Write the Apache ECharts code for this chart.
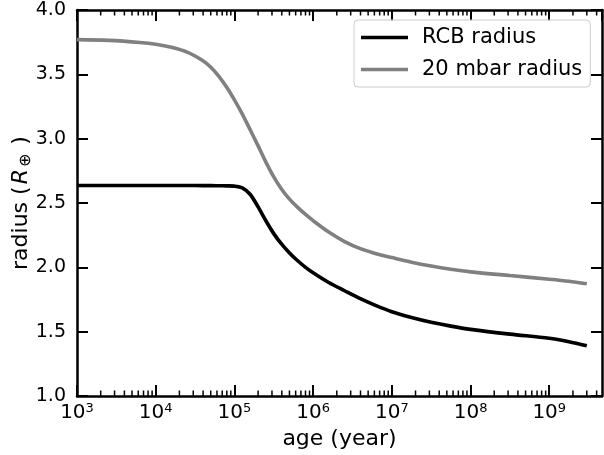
<!DOCTYPE html>
<html>
<head>
<meta charset="utf-8">
<script src="https://cdn.jsdelivr.net/npm/echarts@6/dist/echarts.min.js"></script>
<style>html,body{margin:0;padding:0;background:#fff;}#c{width:604px;height:455px;}</style>
</head>
<body>
<div id="c"></div>
<script>
const ages = [1e3, 2.51e3, 6.31e3, 1e4, 1.58e4, 2.51e4, 3.98e4, 5.01e4, 6.31e4, 7.94e4, 1e5, 1.26e5, 1.58e5, 2e5, 2.51e5, 3.16e5, 3.98e5, 5.01e5, 6.31e5, 7.94e5, 1e6, 1.58e6, 2.51e6, 3.98e6, 6.31e6, 1e7, 1.78e7, 3.16e7, 5.62e7, 1e8, 3.16e8, 1e9, 1.78e9, 3e9];
const rcbRadius = [2.636, 2.636, 2.636, 2.636, 2.636, 2.636, 2.635, 2.635, 2.634, 2.633, 2.631, 2.618, 2.568, 2.470, 2.362, 2.262, 2.180, 2.112, 2.053, 2.002, 1.958, 1.882, 1.818, 1.756, 1.702, 1.655, 1.610, 1.573, 1.543, 1.518, 1.481, 1.449, 1.422, 1.390];
const mbarRadius = [3.770, 3.764, 3.748, 3.734, 3.710, 3.672, 3.605, 3.555, 3.487, 3.402, 3.302, 3.191, 3.071, 2.944, 2.818, 2.703, 2.607, 2.530, 2.468, 2.413, 2.363, 2.274, 2.200, 2.145, 2.106, 2.076, 2.040, 2.010, 1.985, 1.965, 1.936, 1.908, 1.892, 1.872];
const seriesNames = ['RCB radius', '20 mbar radius'];
const xMin = 1e3, xMax = 4.68e9, yMin = 1.0, yMax = 4.0;

const minorTicks = [];
for (let d = 3; d <= 9; d++) {
  for (let k = 2; k <= 9; k++) {
    const v = k * Math.pow(10, d);
    if (v < xMax) minorTicks.push([v, yMin]);
  }
}

const font = 'DejaVu Sans';
const chart = echarts.init(document.getElementById('c'), null, {renderer: 'canvas'});
const xLabelFmt = function (v) {
  const e = Math.round(Math.log10(v));
  return '{b|10}{s|' + e + '}';
};
const baseX = {
  type: 'log', logBase: 10, min: xMin, max: xMax, interval: 1,
  axisLine: {show: true, onZero: false, lineStyle: {color: '#000', width: 2.5}},
  axisTick: {show: true, inside: true, length: 11, lineStyle: {color: '#000', width: 2}},
  splitLine: {show: false},
  minorTick: {show: false}
};
const baseY = {
  type: 'value', min: yMin, max: yMax, interval: 0.5,
  axisLine: {show: true, onZero: false, lineStyle: {color: '#000', width: 2.5}},
  axisTick: {show: true, inside: true, length: 11, lineStyle: {color: '#000', width: 2}},
  splitLine: {show: false}
};

chart.setOption({
  animation: false,
  backgroundColor: '#fff',
  textStyle: {fontFamily: font},
  grid: {left: 77, right: 2, top: 10, bottom: 59, containLabel: false, outerBoundsMode: 'none'},
  legend: {
    data: seriesNames,
    orient: 'vertical',
    left: 354, top: 20,
    icon: 'rect', itemWidth: 47, itemHeight: 3.5, itemGap: 11,
    padding: [7, 8, 7, 7],
    borderColor: '#cccccc', borderWidth: 1, borderRadius: 4,
    backgroundColor: 'rgba(255,255,255,0.8)',
    textStyle: {fontFamily: font, fontSize: 21, color: '#000', padding: [0, 0, 0, 9]}
  },
  xAxis: [
    Object.assign({}, baseX, {
      position: 'bottom',
      name: 'age (year)', nameLocation: 'middle', nameGap: 32, nameMoveOverlap: false,
      nameTextStyle: {fontFamily: font, fontSize: 22, color: '#000'},
      axisLabel: {
        show: true, margin: 6, formatter: xLabelFmt,
        showMinLabel: true, showMaxLabel: false,
        rich: {
          b: {fontFamily: font, fontSize: 20, color: '#000', lineHeight: 22},
          s: {fontFamily: font, fontSize: 13, color: '#000', lineHeight: 13, verticalAlign: 'top'}
        }
      }
    }),
    Object.assign({}, baseX, {position: 'top', axisLabel: {show: false}})
  ],
  yAxis: [
    Object.assign({}, baseY, {
      position: 'left',
      name: 'radius ({i|R}{s|⊕})', nameLocation: 'middle', nameGap: 43, nameRotate: 90,
      nameMoveOverlap: false,
      nameTextStyle: {
        fontFamily: font, fontSize: 22, color: '#000',
        rich: {
          i: {fontFamily: font, fontSize: 22, fontStyle: 'italic', color: '#000', lineHeight: 26, padding: [0, 0, 0, 2]},
          s: {fontFamily: font, fontSize: 16, color: '#000', lineHeight: 26, verticalAlign: 'bottom', padding: [0, 9, 0, 2]}
        }
      },
      axisLabel: {
        show: true, margin: 11, fontFamily: font, fontSize: 19, color: '#000',
        formatter: function (v) { return v.toFixed(1); }
      }
    }),
    Object.assign({}, baseY, {position: 'right', axisLabel: {show: false}})
  ],
  series: [
    {
      name: seriesNames[0], type: 'line', xAxisIndex: 0, yAxisIndex: 0,
      data: ages.map((a, i) => [a, rcbRadius[i]]),
      symbol: 'none', smooth: 0.3,
      lineStyle: {color: '#000000', width: 3.6}, itemStyle: {color: '#000000'}, z: 3
    },
    {
      name: seriesNames[1], type: 'line', xAxisIndex: 0, yAxisIndex: 0,
      data: ages.map((a, i) => [a, mbarRadius[i]]),
      symbol: 'none', smooth: 0.3,
      lineStyle: {color: '#808080', width: 3.6}, itemStyle: {color: '#808080'}, z: 3
    },
    {
      type: 'custom', xAxisIndex: 0, yAxisIndex: 0, silent: true, clip: false, z: 5,
      data: minorTicks,
      encode: {x: 0, y: 1},
      renderItem: function (params, api) {
        const v = api.value(0);
        const b = api.coord([v, yMin]);
        const t = api.coord([v, yMax]);
        const st = {stroke: '#000', lineWidth: 1.5};
        return {
          type: 'group',
          children: [
            {type: 'line', shape: {x1: b[0], y1: b[1], x2: b[0], y2: b[1] - 5.5}, style: st},
            {type: 'line', shape: {x1: t[0], y1: t[1], x2: t[0], y2: t[1] + 5.5}, style: st}
          ]
        };
      }
    }
  ]
});
</script>
</body>
</html>
